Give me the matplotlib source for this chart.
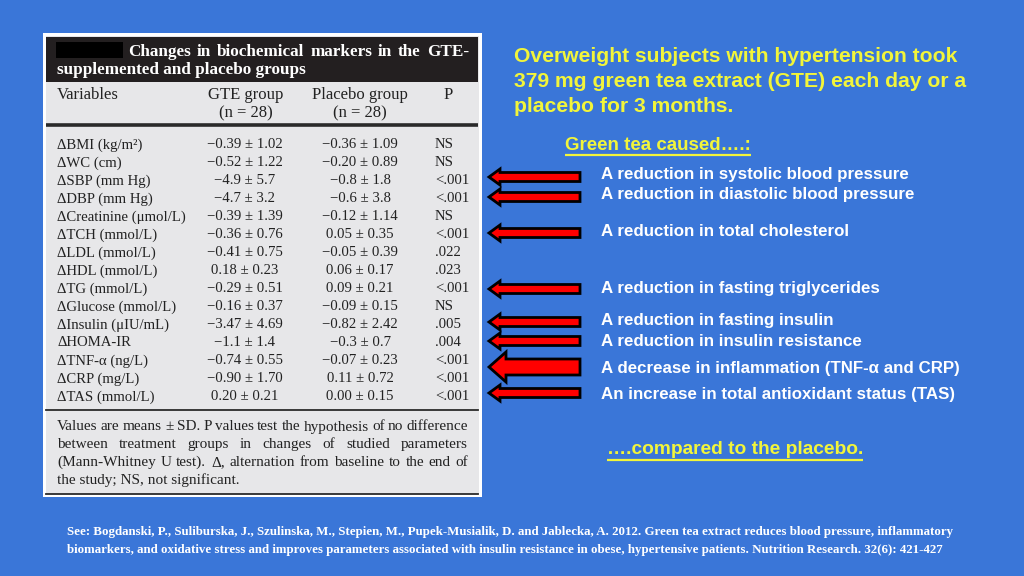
import matplotlib
matplotlib.use("Agg")
import matplotlib.pyplot as plt
from matplotlib.patches import Rectangle, Polygon

# ---------------- data ----------------
variables = ["ΔBMI (kg/m²)", "ΔWC (cm)", "ΔSBP (mm Hg)", "ΔDBP (mm Hg)",
             "ΔCreatinine (μmol/L)", "ΔTCH (mmol/L)", "ΔLDL (mmol/L)",
             "ΔHDL (mmol/L)", "ΔTG (mmol/L)", "ΔGlucose (mmol/L)",
             "ΔInsulin (μIU/mL)", "ΔHOMA-IR", "ΔTNF-α (ng/L)",
             "ΔCRP (mg/L)", "ΔTAS (mmol/L)"]
gte_mean = ["−0.39", "−0.52", "−4.9", "−4.7", "−0.39", "−0.36", "−0.41",
            "0.18", "−0.29", "−0.16", "−3.47", "−1.1", "−0.74", "−0.90", "0.20"]
gte_sd = ["1.02", "1.22", "5.7", "3.2", "1.39", "0.76", "0.75",
          "0.23", "0.51", "0.37", "4.69", "1.4", "0.55", "1.70", "0.21"]
plc_mean = ["−0.36", "−0.20", "−0.8", "−0.6", "−0.12", "0.05", "−0.05",
            "0.06", "0.09", "−0.09", "−0.82", "−0.3", "−0.07", "0.11", "0.00"]
plc_sd = ["1.09", "0.89", "1.8", "3.8", "1.14", "0.35", "0.39",
          "0.17", "0.21", "0.15", "2.42", "0.7", "0.23", "0.72", "0.15"]
p_values = ["NS", "NS", "<.001", "<.001", "NS", "<.001", ".022", ".023",
            "<.001", "NS", ".005", ".004", "<.001", "<.001", "<.001"]

col_headers = ["Variables", "GTE group\n(n = 28)", "Placebo group\n(n = 28)", "P"]
table_title = ["Changes in biochemical markers in the GTE-",
               "supplemented and placebo groups"]
footnote = ["Values are means ± SD. P values test the hypothesis of no difference",
            "between treatment groups in changes of studied parameters",
            "(Mann-Whitney U test). Δ, alternation from baseline to the end of",
            "the study; NS, not significant."]

slide_title = ["Overweight subjects with hypertension took",
               "379 mg green tea extract (GTE) each day or a",
               "placebo for 3 months."]
caused_label = "Green tea caused….:"
effects = ["A reduction in systolic blood pressure",
           "A reduction in diastolic blood pressure",
           "A reduction in total cholesterol",
           "A reduction in fasting triglycerides",
           "A reduction in fasting insulin",
           "A reduction in insulin resistance",
           "A decrease in inflammation (TNF-α and CRP)",
           "An increase in total antioxidant status (TAS)"]
effect_y = [175, 195, 231, 289, 320, 342, 368, 395]
arrow_y = [177, 197, 233, 289, 322, 341, 367, 393]
arrow_big = [False, False, False, False, False, False, True, False]
compared_label = "….compared to the placebo."
citation = ["See: Bogdanski, P., Suliburska, J., Szulinska, M., Stepien, M., Pupek-Musialik, D. and Jablecka, A. 2012. Green tea extract reduces blood pressure, inflammatory",
            "biomarkers, and oxidative stress and improves parameters associated with insulin resistance in obese, hypertensive patients. Nutrition Research. 32(6): 421-427"]

# ---------------- figure ----------------
BG = "#3a76d8"
YEL = "#f2f53a"
INK = "#222222"
fig = plt.figure(figsize=(10.24, 5.76), dpi=100)
fig.patch.set_facecolor(BG)
ax = fig.add_axes([0, 0, 1, 1])
ax.set_xlim(0, 1024)
ax.set_ylim(576, 0)
ax.axis("off")
ax.set_facecolor(BG)

SERIF = ["Liberation Serif", "DejaVu Serif"]
SANS = ["Liberation Sans", "DejaVu Sans"]

# table image frame
ax.add_patch(Rectangle((43, 33), 439, 464, facecolor="white", edgecolor="none"))
ax.add_patch(Rectangle((46, 36), 433, 458, facecolor="#e7e7e9", edgecolor="none"))
ax.add_patch(Rectangle((46, 37), 432, 45, facecolor="#231f20", edgecolor="none"))
ax.add_patch(Rectangle((56, 42), 67, 16, facecolor="black", edgecolor="none"))

fig.canvas.draw()
renderer = fig.canvas.get_renderer()


def justify(words_line, x0, x1, y, **kw):
    words = words_line.split(" ")
    texts = [ax.text(0, y, w, va="baseline", ha="left", **kw) for w in words]
    fig.canvas.draw()
    inv = ax.transData.inverted()
    widths = []
    for t in texts:
        bb = t.get_window_extent(renderer)
        (a, _), (b, _) = inv.transform([(bb.x0, 0), (bb.x1, 0)])
        widths.append(abs(b - a))
    gap = (x1 - x0 - sum(widths)) / max(len(words) - 1, 1)
    x = x0
    for t, w in zip(texts, widths):
        t.set_x(x)
        x += w + gap


def underline(t, y):
    fig.canvas.draw()
    bb = t.get_window_extent(renderer).transformed(ax.transData.inverted())
    ax.plot([bb.x0, bb.x1], [y, y], color=YEL, lw=1.6, solid_capstyle="butt")


# table title (baseline positions)
justify(table_title[0], 128, 469, 56, color="white", fontsize=12.3,
        fontweight="bold", family=SERIF)
ax.text(57, 74, table_title[1], color="white", fontsize=12.3, fontweight="bold",
        family=SERIF, va="baseline", ha="left")

# column headers
hdr_kw = dict(color=INK, fontsize=12, family=SERIF, va="baseline")
ax.text(57, 99, col_headers[0], ha="left", **hdr_kw)
for xc, h in zip([246, 360], col_headers[1:3]):
    l1, l2 = h.split("\n")
    ax.text(xc, 99, l1, ha="center", **hdr_kw)
    ax.text(xc, 117, l2, ha="center", **hdr_kw)
ax.text(444, 99, col_headers[3], ha="left", **hdr_kw)

ax.plot([46, 478], [124.5, 124.5], color="#2a2a2a", lw=2.6, solid_capstyle="butt")

row_kw = dict(color=INK, fontsize=10.6, family=SERIF, va="baseline")
row0, dy = 148.5, 18.0
for i, v in enumerate(variables):
    y = row0 + i * dy
    ax.text(57, y, v, ha="left", **row_kw)
    ax.text(245, y, f"{gte_mean[i]} ± {gte_sd[i]}", ha="center", **row_kw)
    ax.text(360, y, f"{plc_mean[i]} ± {plc_sd[i]}", ha="center", **row_kw)
    ax.text(435, y, p_values[i], ha="left", **row_kw)

ax.plot([46, 478], [410, 410], color="#2a2a2a", lw=1.3)
fn_kw = dict(color=INK, fontsize=11, family=SERIF)
for j, line in enumerate(footnote):
    y = 430.5 + j * 17.8
    if j < len(footnote) - 1:
        justify(line, 57, 468, y, **fn_kw)
    else:
        ax.text(57, y, line, va="baseline", ha="left", **fn_kw)
ax.plot([46, 478], [493.5, 493.5], color="#2a2a2a", lw=1.3)

# slide title
for j, line in enumerate(slide_title):
    ax.text(514, 57 + j * 24.5, line, color=YEL, fontsize=15.2, fontweight="bold",
            family=SANS, va="center", ha="left")

t = ax.text(565, 145, caused_label, color=YEL, fontsize=13.5, fontweight="bold",
            family=SANS, va="center", ha="left")
underline(t, 155)

for y, txt in zip(effect_y, effects):
    ax.text(601, y, txt, color="white", fontsize=12.2, fontweight="bold",
            family=SANS, va="center", ha="left")

# arrows
for y, big in zip(arrow_y, arrow_big):
    if big:
        sh, hh, hl = 8, 15, 17
    else:
        sh, hh, hl = 4.5, 8, 11
    x0, x1 = 489, 580
    pts = [(x0, y), (x0 + hl, y - hh), (x0 + hl, y - sh), (x1, y - sh),
           (x1, y + sh), (x0 + hl, y + sh), (x0 + hl, y + hh)]
    ax.add_patch(Polygon(pts, closed=True, facecolor="#ff0000", edgecolor="black",
                         lw=2.0, joinstyle="miter"))

t = ax.text(607, 450, compared_label, color=YEL, fontsize=13.8, fontweight="bold",
            family=SANS, va="center", ha="left")
underline(t, 460)

for j, line in enumerate(citation):
    ax.text(67, 532 + j * 18, line, color="white", fontsize=9.3, fontweight="bold",
            family=SERIF, va="center", ha="left")

fig.savefig("out.png", dpi=100, facecolor=BG)
